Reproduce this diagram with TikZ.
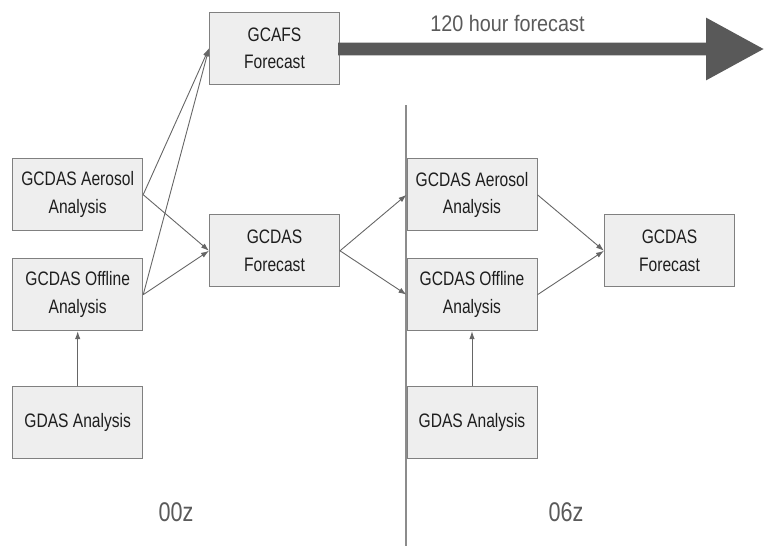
\documentclass[tikz,border=0pt]{standalone}
\usepackage{fontspec}
\setmainfont{Liberation Sans}
\newfontfamily\boxfont[FakeStretch=0.8]{Liberation Sans}
\newfontfamily\titlefont[FakeStretch=0.88]{Liberation Sans}
\usetikzlibrary{arrows.meta}
\definecolor{boxfill}{HTML}{EEEEEE}
\definecolor{boxline}{HTML}{808080}
\definecolor{sepgray}{HTML}{8C8C8C}
\definecolor{linkgray}{HTML}{666666}
\definecolor{bigarrow}{HTML}{595959}
\definecolor{labelgray}{HTML}{5A5A5A}
\definecolor{boxtext}{HTML}{1E1E1E}
\tikzset{
  stage/.style={draw=boxline, line width=1pt, fill=boxfill, minimum width=130pt,
    minimum height=72pt, inner sep=0pt, align=center, text=boxtext,
    font=\boxfont\fontsize{19.5}{27.5}\selectfont},
  link/.style={draw=linkgray, line width=0.9pt, -{Latex[length=8pt,width=5.5pt]}},
  cycletag/.style={anchor=base, text=labelgray, font=\boxfont\fontsize{27}{30}\selectfont},
}
\begin{document}
\begin{tikzpicture}[x=1pt, y=-1pt]
\useasboundingbox (0,0) rectangle (764,546);

% cycle separator
\coordinate (sepTop) at (406,105);
\coordinate (sepBot) at (406,546);
\draw[sepgray, line width=1.2pt] (sepTop) -- (sepBot);

% 00z cycle
\node[stage] (gcafs) at (274.5,48.3) {GCAFS\\Forecast};
\node[stage] (aero0) at (77.7,194.7) {GCDAS Aerosol\\Analysis};
\node[stage] (off0)  at (77.7,294.7) {GCDAS Offline\\Analysis};
\node[stage] (gdas0) at (77.7,422)   {GDAS Analysis};
\node[stage] (fc0)   at (274.5,250.8) {GCDAS\\Forecast};

% 06z cycle
\node[stage] (aero6) at (472,194.8) {GCDAS Aerosol\\Analysis};
\node[stage] (off6)  at (472,294.7) {GCDAS Offline\\Analysis};
\node[stage] (gdas6) at (472,422)   {GDAS Analysis};
\node[stage] (fc6)   at (669.5,250.8) {GCDAS\\Forecast};

% long forecast arrow out of GCAFS
\coordinate (shaftStart) at (338,49);
\fill[bigarrow] (shaftStart) ++(0,-6.4) -- ++(368,0) -- ++(0,-25)
  -- ++(57.5,31.4) -- ++(-57.5,31.4) -- ++(0,-25) -- ++(-368,0) -- cycle;
\node[anchor=base, text=labelgray, font=\titlefont\fontsize{22.5}{26}\selectfont]
  (fcstlabel) at (507.5,31) {120 hour forecast};

% links
\draw[link] (aero0.east) -- (gcafs.west);
\draw[link] (off0.east)  -- (gcafs.west);
\draw[link] (aero0.east) -- (fc0.west);
\draw[link] (off0.east)  -- (fc0.west);
\draw[link] (gdas0.north) -- (off0.south);
\draw[link] (fc0.east) -- (aero6.west);
\draw[link] (fc0.east) -- (off6.west);
\draw[link] (aero6.east) -- (fc6.west);
\draw[link] (off6.east)  -- (fc6.west);
\draw[link] (gdas6.north) -- (off6.south);

% cycle times
\node[cycletag] (t00) at (176,521.7) {00z};
\node[cycletag] (t06) at (566,521.7) {06z};
\end{tikzpicture}
\end{document}
